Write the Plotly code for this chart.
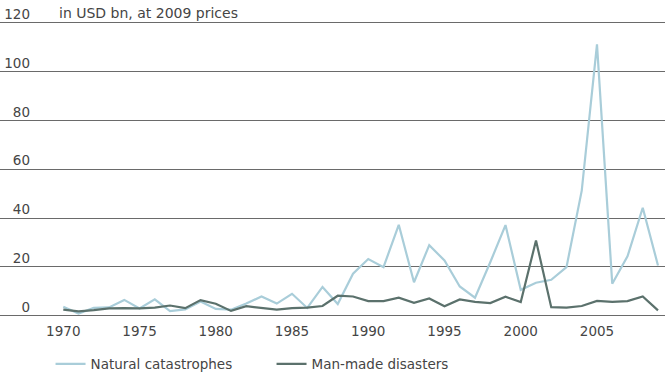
import plotly.graph_objects as go

years = list(range(1970, 2010))
natural = [3.7, 0.9, 3.2, 3.4, 6.5, 3.0, 6.7, 1.9, 2.6, 5.8,
           2.8, 2.5, 5.0, 7.9, 5.0, 9.0, 3.2, 11.8, 4.8, 17.2,
           23.2, 19.9, 37.2, 13.7, 28.9, 22.6, 12.0, 7.4, 21.9, 37.1,
           10.6, 13.5, 14.7, 19.9, 51.2, 111.0, 13.1, 24.3, 44.2, 20.6]
manmade = [2.5, 1.8, 2.3, 3.0, 3.1, 3.0, 3.3, 4.2, 3.1, 6.4,
           4.9, 2.0, 3.9, 3.1, 2.5, 3.1, 3.3, 4.0, 8.2, 7.9,
           6.0, 6.0, 7.4, 5.3, 7.1, 3.9, 6.7, 5.7, 5.2, 7.8,
           5.6, 30.8, 3.5, 3.3, 4.0, 6.1, 5.7, 6.0, 7.9, 2.2]
series_names = ["Natural catastrophes", "Man-made disasters"]
x_ticks = [1970, 1975, 1980, 1985, 1990, 1995, 2000, 2005]
y_ticks = [0, 20, 40, 60, 80, 100, 120]
unit_label = "in USD bn, at 2009 prices"

FONT = "DejaVu Sans"
FS = 13.5
TXT = "#454545"

fig = go.Figure()
fig.add_trace(go.Scatter(x=years, y=natural, mode="lines", name=series_names[0],
                         line=dict(color="#a9cdd9", width=2.2)))
fig.add_trace(go.Scatter(x=years, y=manmade, mode="lines", name=series_names[1],
                         line=dict(color="#5b716c", width=2.2)))

fig.update_layout(
    width=665, height=376,
    margin=dict(l=0, r=0, t=20, b=59, autoexpand=False),
    paper_bgcolor="white", plot_bgcolor="white",
    font=dict(family=FONT, size=FS, color=TXT),
    showlegend=True,
    legend=dict(orientation="h", x=0.076, xanchor="left", xref="container",
                y=1 - 364/376, yanchor="middle", yref="container",
                entrywidth=176, entrywidthmode="pixels",
                font=dict(family=FONT, size=FS, color=TXT), itemwidth=30),
    title=dict(text=unit_label, x=59/665, xanchor="left", xref="paper",
               y=1 - 13/376, yanchor="middle", yref="container",
               font=dict(family=FONT, size=14, color=TXT)),
    xaxis=dict(range=[1965.85, 2009.46], tickvals=x_ticks, showgrid=False,
               zeroline=False, showline=False, ticks="", automargin=False,
               ticklabelstandoff=4, tickfont=dict(size=FS, color=TXT)),
    yaxis=dict(range=[-0.5, 121], tickvals=y_ticks, showgrid=True, gridcolor="#6a6a6a",
               gridwidth=1, zeroline=False, showline=False, ticks="", automargin=False,
               anchor="free", position=30/665, ticklabelposition="outside top",
               ticklabelshift=1, tickfont=dict(size=FS, color=TXT)),
)

fig.write_html("out.html", config={"displayModeBar": False},
               post_script="document.body.style.margin='0';document.body.style.padding='0';")
